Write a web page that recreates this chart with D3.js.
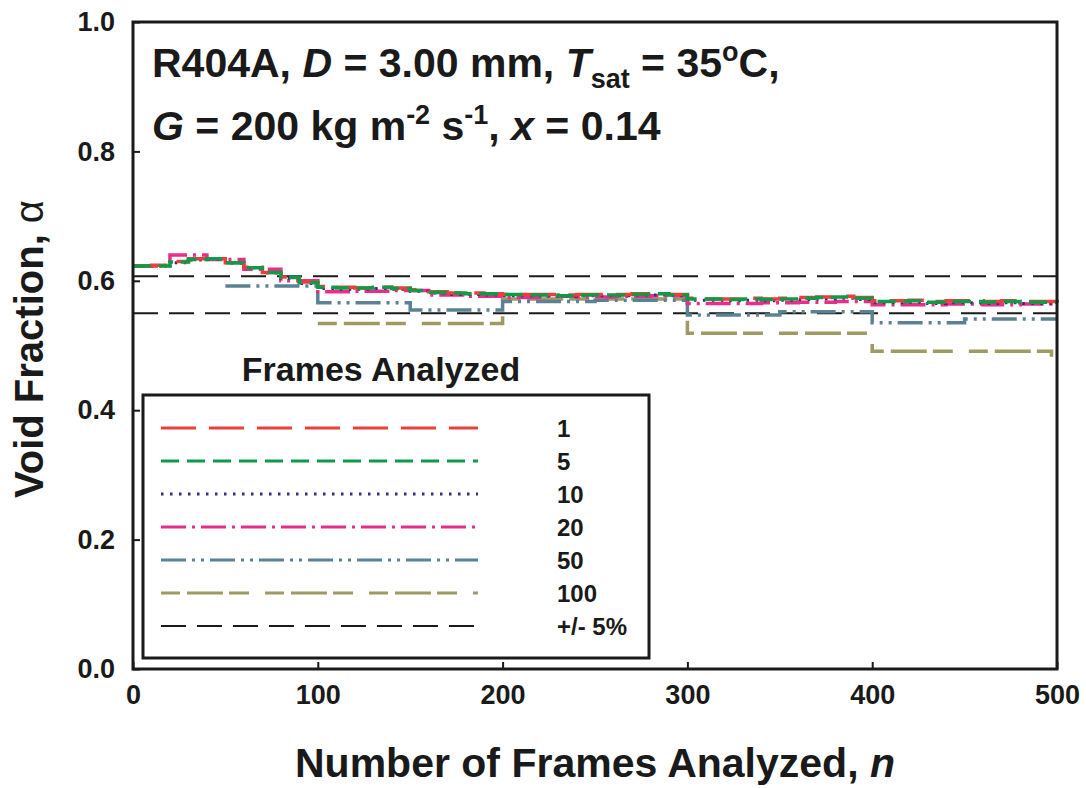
<!DOCTYPE html>
<html>
<head>
<meta charset="utf-8">
<script src="https://cdn.jsdelivr.net/npm/d3@7"></script>
<style>
  body { margin: 0; background: #fff; }
  text { font-family: "Liberation Sans", Arial, sans-serif; font-weight: bold; fill: #1a1a1a; }
</style>
</head>
<body>
<div class="canvas"></div>
<script>
// frame counts (x) for each series
const nFine = d3.range(0, 501, 10);
const nPink = d3.range(0, 501, 20);
const nSlate = [50, 100, 150, 200, 250, 300, 350, 400, 450, 500];
const nOlive = [100, 200, 300, 400, 497];

// void fraction values
const red = [0.623, 0.624, 0.630, 0.634, 0.634, 0.628, 0.621, 0.613, 0.606, 0.598,
  0.591, 0.590, 0.589, 0.590, 0.589, 0.586, 0.583, 0.581, 0.581, 0.580,
  0.579, 0.579, 0.579, 0.578, 0.579, 0.579, 0.579, 0.580, 0.580, 0.579,
  0.573, 0.572, 0.572, 0.573, 0.572, 0.573, 0.574, 0.575, 0.576, 0.574,
  0.569, 0.569, 0.570, 0.568, 0.569, 0.569, 0.568, 0.569, 0.568, 0.568, 0.567];
const green = [0.623, 0.623, 0.629, 0.633, 0.634, 0.628, 0.620, 0.613, 0.605, 0.597,
  0.590, 0.589, 0.589, 0.590, 0.588, 0.585, 0.582, 0.581, 0.580, 0.580,
  0.579, 0.578, 0.578, 0.577, 0.578, 0.578, 0.578, 0.579, 0.580, 0.578,
  0.572, 0.572, 0.571, 0.572, 0.571, 0.572, 0.573, 0.574, 0.575, 0.573,
  0.568, 0.568, 0.569, 0.567, 0.568, 0.568, 0.567, 0.568, 0.567, 0.567, 0.566];
const navy = [0.623, 0.623, 0.628, 0.632, 0.633, 0.627, 0.620, 0.612, 0.604, 0.596,
  0.588, 0.587, 0.587, 0.588, 0.587, 0.584, 0.581, 0.579, 0.579, 0.578,
  0.577, 0.577, 0.577, 0.576, 0.577, 0.577, 0.577, 0.578, 0.578, 0.577,
  0.570, 0.570, 0.569, 0.570, 0.569, 0.570, 0.571, 0.572, 0.573, 0.571,
  0.566, 0.566, 0.567, 0.565, 0.566, 0.566, 0.565, 0.566, 0.565, 0.565, 0.564];
const pink = [0.623, 0.640, 0.633, 0.618, 0.600, 0.583, 0.584, 0.585, 0.578, 0.576,
  0.574, 0.576, 0.575, 0.576, 0.577, 0.565, 0.565, 0.566, 0.567, 0.568,
  0.563, 0.563, 0.564, 0.563, 0.564, 0.562];
const slate = [0.592, 0.566, 0.555, 0.568, 0.570, 0.547, 0.552, 0.535, 0.541, 0.541];
const olive = [0.534, 0.572, 0.519, 0.491, 0.473];
const bandLow = 0.550;
const bandHigh = 0.607;

const legendLabels = ['1', '5', '10', '20', '50', '100', '+/- 5%'];
const xTicks = [0, 100, 200, 300, 400, 500];
const yTicks = [0, 0.2, 0.4, 0.6, 0.8, 1.0];

const width = 1086, height = 788;
const margin = {top: 22, right: 29, bottom: 119, left: 133};
const graphWidth = width - margin.left - margin.right;
const graphHeight = height - margin.top - margin.bottom;

const svg = d3.select('.canvas')
  .append('svg')
    .attr('width', width)
    .attr('height', height);

const graph = svg.append('g')
  .attr('transform', `translate(${margin.left}, ${margin.top})`);

const x = d3.scaleLinear().domain([0, 500]).range([0, graphWidth]);
const y = d3.scaleLinear().domain([0, 1]).range([graphHeight, 0]);

// axes with inward ticks
const xAxis = d3.axisBottom(x).tickValues(xTicks).tickSize(-7).tickPadding(16);
const yAxis = d3.axisLeft(y).tickValues(yTicks).tickSize(-7).tickPadding(18)
  .tickFormat(d3.format('.1f'));

const xAxisGroup = graph.append('g')
  .attr('transform', `translate(0, ${graphHeight})`)
  .call(xAxis);
const yAxisGroup = graph.append('g').call(yAxis);

[xAxisGroup, yAxisGroup].forEach(g => {
  g.select('.domain').remove();
  g.selectAll('line').attr('stroke', '#1a1a1a').attr('stroke-width', 2);
  g.selectAll('text').style('font-size', '27px').attr('fill', '#1a1a1a');
});
xAxisGroup.selectAll('text').attr('dy', '0.71em');

// series
const line = d3.line()
  .x(d => x(d[0]))
  .y(d => y(d[1]))
  .curve(d3.curveStepAfter);

const series = [
  {n: [0, 500], v: [bandHigh, bandHigh], color: '#1a1a1a', dash: '25,11', w: 2},
  {n: [0, 500], v: [bandLow, bandLow], color: '#1a1a1a', dash: '25,11', w: 2},
  {n: nOlive, v: olive, color: '#9e9a62', dash: '19,7,36,6,20,16', w: 3.5},
  {n: nSlate, v: slate, color: '#5b8294', dash: '25,6,3,6,3,6', w: 3.5},
  {n: nPink, v: pink, color: '#ec2c8b', dash: '25,6,3,6', w: 3.5},
  {n: nFine, v: navy, color: '#3b2a7e', dash: '2.5,6.5', w: 3},
  {n: nFine, v: red, color: '#e8403a', dash: '35,13', w: 3.5},
  {n: nFine, v: green, color: '#0f9a48', dash: '18,8', w: 3.5}
];

graph.selectAll('path.series')
  .data(series)
  .enter()
  .append('path')
    .attr('class', 'series')
    .attr('fill', 'none')
    .attr('stroke', d => d.color)
    .attr('stroke-width', d => d.w)
    .attr('stroke-dasharray', d => d.dash)
    .attr('d', d => line(d.n.map((n, i) => [n, d.v[i]])));

// frame
graph.append('rect')
  .attr('width', graphWidth)
  .attr('height', graphHeight)
  .attr('fill', 'none')
  .attr('stroke', '#1a1a1a')
  .attr('stroke-width', 3);

// legend
const legendStyles = [
  {color: '#e8403a', dash: '35,13', w: 3},
  {color: '#0f9a48', dash: '18,8', w: 3},
  {color: '#3b2a7e', dash: '2.5,6.5', w: 3},
  {color: '#ec2c8b', dash: '25,6,3,6', w: 3},
  {color: '#5b8294', dash: '25,6,3,6,3,6', w: 3},
  {color: '#9e9a62', dash: '19,7,36,6,20,16', w: 3},
  {color: '#1a1a1a', dash: '25,11', w: 2}
];

const legend = svg.append('g').attr('transform', 'translate(143, 395)');
legend.append('rect')
  .attr('width', 506)
  .attr('height', 263)
  .attr('fill', '#fff')
  .attr('stroke', '#1a1a1a')
  .attr('stroke-width', 3);

svg.append('text')
  .attr('x', 381)
  .attr('y', 381)
  .attr('text-anchor', 'middle')
  .style('font-size', '34px')
  .text('Frames Analyzed');

const rows = legend.selectAll('g.row')
  .data(legendLabels)
  .enter()
  .append('g')
    .attr('class', 'row')
    .attr('transform', (d, i) => `translate(0, ${33 + i * 33})`);

rows.append('line')
  .attr('x1', 18).attr('x2', 335)
  .attr('stroke', (d, i) => legendStyles[i].color)
  .attr('stroke-width', (d, i) => legendStyles[i].w)
  .attr('stroke-dasharray', (d, i) => legendStyles[i].dash);

rows.append('text')
  .attr('x', 414)
  .attr('dy', '0.36em')
  .style('font-size', '24px')
  .text(d => d);

// annotation
const note = svg.append('g').style('font-size', '41px');
const l1 = note.append('text').attr('x', 152).attr('y', 77);
l1.append('tspan').text('R404A, ');
l1.append('tspan').attr('font-style', 'italic').text('D');
l1.append('tspan').text(' = 3.00 mm, ');
l1.append('tspan').attr('font-style', 'italic').text('T');
l1.append('tspan').attr('dy', 11).style('font-size', '27px').text('sat');
l1.append('tspan').attr('dy', -11).text(' = 35');
l1.append('tspan').attr('dy', -16).style('font-size', '27px').text('o');
l1.append('tspan').attr('dy', 16).text('C,');

const l2 = note.append('text').attr('x', 152).attr('y', 140);
l2.append('tspan').attr('font-style', 'italic').text('G');
l2.append('tspan').text(' = 200 kg m');
l2.append('tspan').attr('dy', -16).style('font-size', '27px').text('-2');
l2.append('tspan').attr('dy', 16).text(' s');
l2.append('tspan').attr('dy', -16).style('font-size', '27px').text('-1');
l2.append('tspan').attr('dy', 16).text(', ');
l2.append('tspan').attr('font-style', 'italic').text('x');
l2.append('tspan').text(' = 0.14');

// axis titles
const xTitle = svg.append('text')
  .attr('x', 595)
  .attr('y', 777)
  .attr('text-anchor', 'middle')
  .style('font-size', '41px');
xTitle.append('tspan').text('Number of Frames Analyzed, ');
xTitle.append('tspan').attr('font-style', 'italic').text('n');

const yTitle = svg.append('text')
  .attr('transform', 'translate(43, 349) rotate(-90)')
  .attr('text-anchor', 'middle')
  .style('font-size', '40px');
yTitle.append('tspan').text('Void Fraction, ');
yTitle.append('tspan').style('font-weight', 'normal').text('α');
</script>
</body>
</html>
